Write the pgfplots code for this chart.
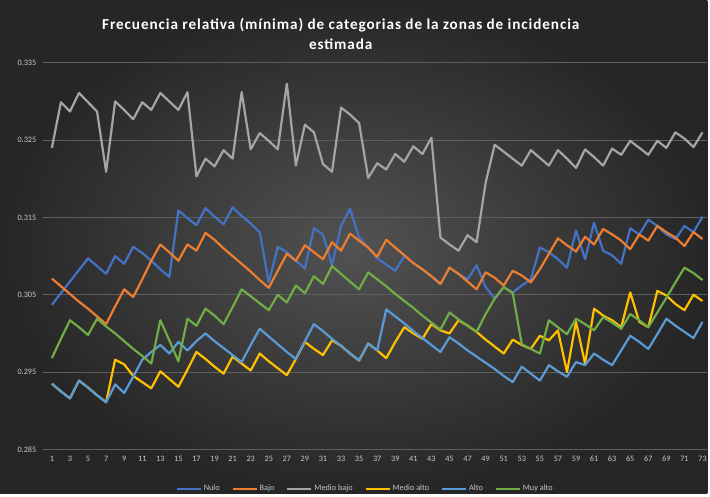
\documentclass[border=0pt]{standalone}
\usepackage{fontspec}
\setmainfont{Carlito}
\newfontfamily\titlefont[LetterSpace=6]{Carlito}
\usepackage{pgfplots}
\usepackage{pgfplotstable}
\pgfplotsset{compat=1.18}
\definecolor{cNulo}{HTML}{4472C4}
\definecolor{cBajo}{HTML}{ED7D31}
\definecolor{cMbajo}{HTML}{A5A5A5}
\definecolor{cMalto}{HTML}{FFC000}
\definecolor{cAlto}{HTML}{5B9BD5}
\definecolor{cMuy}{HTML}{70AD47}
\definecolor{bgin}{HTML}{525252}
\definecolor{bgout}{HTML}{262626}
\definecolor{tickc}{HTML}{C8C8C8}
\definecolor{gridc}{HTML}{5E5E5E}
\pgfplotstableread{
x nulo bajo mbajo malto alto muy
1 0.3037 0.3071 0.3240 0.2935 0.2935 0.2968
2 0.3052 0.3061 0.3299 0.2925 0.2925 0.2993
3 0.3067 0.3051 0.3287 0.2916 0.2916 0.3017
4 0.3082 0.3041 0.3311 0.2939 0.2939 0.3008
5 0.3097 0.3032 0.3299 0.2930 0.2930 0.2998
6 0.3087 0.3022 0.3287 0.2920 0.2920 0.3019
7 0.3077 0.3012 0.3209 0.2911 0.2911 0.3009
8 0.3100 0.3035 0.3300 0.2966 0.2934 0.3000
9 0.3090 0.3057 0.3289 0.2960 0.2923 0.2990
10 0.3112 0.3047 0.3277 0.2945 0.2944 0.2980
11 0.3104 0.3070 0.3299 0.2937 0.2966 0.2971
12 0.3094 0.3094 0.3289 0.2929 0.2976 0.2961
13 0.3083 0.3115 0.3311 0.2951 0.2985 0.3017
14 0.3073 0.3105 0.3300 0.2941 0.2974 0.2991
15 0.3159 0.3094 0.3289 0.2931 0.2989 0.2964
16 0.3149 0.3115 0.3312 0.2953 0.2978 0.3019
17 0.3140 0.3107 0.3203 0.2976 0.2990 0.3010
18 0.3162 0.3130 0.3226 0.2967 0.3000 0.3032
19 0.3151 0.3121 0.3216 0.2957 0.2990 0.3023
20 0.3141 0.3110 0.3237 0.2948 0.2981 0.3012
21 0.3163 0.3100 0.3226 0.2970 0.2972 0.3034
22 0.3152 0.3090 0.3312 0.2961 0.2963 0.3057
23 0.3142 0.3080 0.3238 0.2952 0.2985 0.3048
24 0.3131 0.3069 0.3259 0.2974 0.3006 0.3039
25 0.3066 0.3059 0.3249 0.2964 0.2996 0.3030
26 0.3112 0.3081 0.3238 0.2955 0.2986 0.3050
27 0.3105 0.3103 0.3323 0.2946 0.2976 0.3040
28 0.3094 0.3094 0.3217 0.2967 0.2967 0.3062
29 0.3084 0.3114 0.3270 0.2989 0.2990 0.3052
30 0.3136 0.3105 0.3260 0.2980 0.3012 0.3074
31 0.3128 0.3096 0.3219 0.2972 0.3003 0.3064
32 0.3088 0.3118 0.3209 0.2991 0.2993 0.3087
33 0.3139 0.3107 0.3292 0.2984 0.2984 0.3077
34 0.3161 0.3129 0.3283 0.2974 0.2974 0.3067
35 0.3124 0.3120 0.3272 0.2965 0.2965 0.3057
36 0.3111 0.3111 0.3201 0.2987 0.2987 0.3079
37 0.3097 0.3099 0.3220 0.2978 0.2978 0.3070
38 0.3089 0.3121 0.3212 0.2968 0.3031 0.3061
39 0.3081 0.3111 0.3232 0.2989 0.3022 0.3051
40 0.3100 0.3101 0.3222 0.3008 0.3013 0.3042
41 0.3091 0.3091 0.3242 0.3000 0.3003 0.3033
42 0.3083 0.3083 0.3232 0.2993 0.2994 0.3023
43 0.3074 0.3074 0.3253 0.3012 0.2985 0.3014
44 0.3064 0.3064 0.3124 0.3004 0.2976 0.3005
45 0.3085 0.3085 0.3115 0.3000 0.2995 0.3027
46 0.3077 0.3077 0.3107 0.3017 0.2987 0.3018
47 0.3070 0.3067 0.3127 0.3010 0.2978 0.3010
48 0.3088 0.3057 0.3118 0.3002 0.2970 0.3002
49 0.3060 0.3079 0.3195 0.2992 0.2962 0.3025
50 0.3045 0.3072 0.3244 0.2983 0.2954 0.3045
51 0.3060 0.3062 0.3235 0.2974 0.2945 0.3060
52 0.3053 0.3081 0.3226 0.2992 0.2937 0.3052
53 0.3062 0.3075 0.3217 0.2985 0.2957 0.2986
54 0.3070 0.3066 0.3237 0.2980 0.2948 0.2980
55 0.3111 0.3083 0.3227 0.2997 0.2939 0.2974
56 0.3105 0.3103 0.3217 0.2991 0.2959 0.3017
57 0.3096 0.3123 0.3237 0.3004 0.2951 0.3008
58 0.3085 0.3114 0.3226 0.2950 0.2944 0.2999
59 0.3133 0.3106 0.3214 0.3015 0.2963 0.3019
60 0.3096 0.3125 0.3238 0.2961 0.2959 0.3012
61 0.3143 0.3115 0.3228 0.3032 0.2974 0.3004
62 0.3107 0.3135 0.3217 0.3023 0.2966 0.3021
63 0.3101 0.3128 0.3239 0.3017 0.2959 0.3014
64 0.3090 0.3120 0.3231 0.3008 0.2978 0.3006
65 0.3136 0.3109 0.3249 0.3053 0.2997 0.3025
66 0.3128 0.3128 0.3240 0.3015 0.2989 0.3017
67 0.3147 0.3120 0.3231 0.3008 0.2980 0.3008
68 0.3139 0.3139 0.3249 0.3055 0.2999 0.3027
69 0.3128 0.3131 0.3240 0.3049 0.3019 0.3046
70 0.3122 0.3124 0.3260 0.3038 0.3010 0.3066
71 0.3139 0.3113 0.3252 0.3030 0.3002 0.3085
72 0.3131 0.3131 0.3241 0.3050 0.2994 0.3078
73 0.3151 0.3122 0.3260 0.3042 0.3015 0.3069
}\datatable
\begin{document}
\begin{tikzpicture}[x=1bp,y=1bp]
\shade[inner color=bgin, outer color=bgout] (0,0) rectangle (710,495);
\node[text=white, font=\titlefont\fontsize{15.3}{20.5}\selectfont\bfseries, align=center] at (342,461) {Frecuencia relativa (mínima) de categorias de la zonas de incidencia\\estimada};
\begin{axis}[
  at={(43bp,44bp)}, anchor=south west,
  scale only axis, width=667bp, height=388bp,
  xmin=0, xmax=73.55, ymin=0.285, ymax=0.335,
  axis line style={draw=none},
  tick style={draw=none},
  xtick={1,3,...,73},
  ytick={0.285,0.295,...,0.336},
  ymajorgrids, grid style={gridc, line width=0.6bp},
  /pgf/number format/assume math mode=true,
  yticklabel style={/pgf/number format/.cd, fixed, precision=3, fixed zerofill, /tikz/.cd, font=\fontsize{8.3}{10}\selectfont, text=tickc, xshift=-3bp},
  xticklabel style={font=\fontsize{8.3}{10}\selectfont, text=tickc, yshift=-3bp},
  clip=true,
  legend columns=6,
  legend style={at={(0.485,-0.082)}, anchor=north, draw=none, fill=none, font=\fontsize{8.3}{10}\selectfont, text=tickc, /tikz/every even column/.append style={column sep=10bp}},
  legend image code/.code={\draw[#1, line width=2.2bp] (0bp,0bp) -- (24bp,0bp);},
  every axis plot/.append style={line width=2.2bp, line join=round, no markers},
]
\addplot[cNulo] table[x=x, y=nulo] {\datatable};
\addlegendentry{Nulo}
\addplot[cBajo] table[x=x, y=bajo] {\datatable};
\addlegendentry{Bajo}
\addplot[cMbajo] table[x=x, y=mbajo] {\datatable};
\addlegendentry{Medio bajo}
\addplot[cMalto] table[x=x, y=malto] {\datatable};
\addlegendentry{Medio alto}
\addplot[cAlto] table[x=x, y=alto] {\datatable};
\addlegendentry{Alto}
\addplot[cMuy] table[x=x, y=muy] {\datatable};
\addlegendentry{Muy alto}
\end{axis}
\end{tikzpicture}
\end{document}
